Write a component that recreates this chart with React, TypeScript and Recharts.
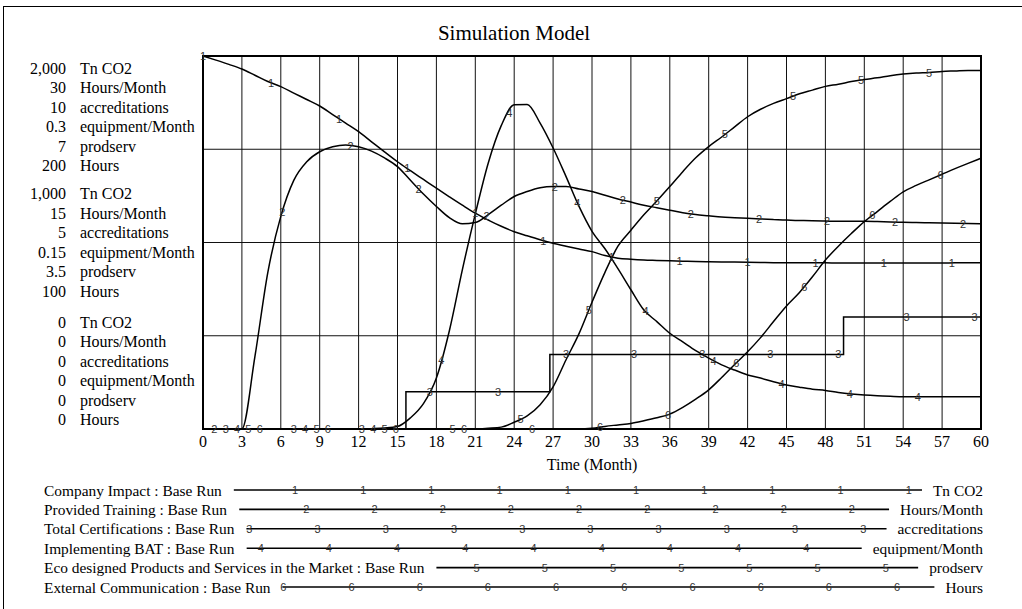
import { CartesianGrid, Line, LineChart, ReferenceArea, XAxis, YAxis } from "recharts";

const months = [
  0, 1, 2, 3, 4, 5, 6, 7, 8, 9, 10, 11, 12, 13, 14, 15, 16, 17, 18, 19, 20, 21, 22, 23, 24, 25, 26, 27, 28, 29, 30,
  31, 32, 33, 34, 35, 36, 37, 38, 39, 40, 41, 42, 43, 44, 45, 46, 47, 48, 49, 50, 51, 52, 53, 54, 55, 56, 57, 58, 59, 60,
];
const timeTicks = [0, 3, 6, 9, 12, 15, 18, 21, 24, 27, 30, 33, 36, 39, 42, 45, 48, 51, 54, 57, 60];

// Tn CO2
const companyImpact = [
  2000, 1978, 1955, 1930, 1897, 1863, 1836, 1801, 1767, 1732, 1686, 1640, 1594, 1540, 1486, 1433, 1385, 1338, 1291, 1245,
  1200, 1157, 1120, 1087, 1058, 1036, 1015, 996, 980, 965, 951, 930, 916, 910, 906, 904, 902, 900, 898, 897, 896, 895, 894,
  893, 892, 892, 891, 891, 891, 890, 890, 890, 890, 890, 890, 890, 890, 890, 891, 891, 892,
];
// Hours/Month
const providedTraining = [
  0, 0, 0, 0, 5.8, 12.6, 17.1, 20.0, 21.5, 22.3, 22.7, 22.85, 22.7, 22.35, 21.8, 21.1, 20.0, 18.9, 17.9, 17.0, 16.5, 16.6,
  17.25, 18.0, 18.7, 19.1, 19.4, 19.5, 19.5, 19.3, 19.1, 18.8, 18.5, 18.25, 18.0, 17.8, 17.6, 17.4, 17.25, 17.15, 17.05,
  17.0, 16.95, 16.9, 16.85, 16.8, 16.77, 16.74, 16.72, 16.7, 16.7, 16.7, 16.68, 16.65, 16.63, 16.6, 16.58, 16.56, 16.54,
  16.52, 16.5,
];
// accreditations (step series)
const certifications = [
  0, 0, 0, 0, 0, 0, 0, 0, 0, 0, 0, 0, 0, 0, 0, 0, 1, 1, 1, 1, 1, 1, 1, 1, 1, 1, 1, 2, 2, 2, 2, 2, 2, 2, 2, 2, 2, 2, 2, 2, 2,
  2, 2, 2, 2, 2, 2, 2, 2, 2, 3, 3, 3, 3, 3, 3, 3, 3, 3, 3, 3,
];
const certJumps = [15.65, 26.75, 49.4];
const certJumpLevels = [1, 2, 3];
// equipment/Month
const implementingBAT = [
  0, 0, 0, 0, 0, 0, 0, 0, 0, 0, 0, 0, 0, 0.0003, 0.0008, 0.002, 0.009, 0.0204, 0.041, 0.079, 0.128, 0.173, 0.214, 0.244,
  0.2607, 0.261, 0.246, 0.226, 0.203, 0.179, 0.159, 0.145, 0.129, 0.112, 0.0957, 0.0864, 0.077, 0.07, 0.063, 0.057, 0.0516,
  0.0474, 0.0435, 0.041, 0.038, 0.0354, 0.0336, 0.032, 0.031, 0.0294, 0.0282, 0.0273, 0.0267, 0.0263, 0.026, 0.026, 0.026,
  0.026, 0.026, 0.026, 0.026,
];
// prodserv
const ecoProducts = [
  0, 0, 0, 0, 0, 0, 0, 0, 0, 0, 0, 0, 0, 0, 0, 0, 0, 0, 0, 0, 0, 0, 0.014, 0.035, 0.126, 0.245, 0.455, 0.79, 1.3, 1.79,
  2.38, 2.94, 3.43, 3.73, 4.02, 4.28, 4.55, 4.83, 5.09, 5.3, 5.48, 5.67, 5.86, 6.0, 6.11, 6.2, 6.29, 6.36, 6.43, 6.47, 6.52,
  6.56, 6.59, 6.63, 6.66, 6.68, 6.69, 6.71, 6.72, 6.73, 6.73,
];
// Hours
const externalComm = [
  0, 0, 0, 0, 0, 0, 0, 0, 0, 0, 0, 0, 0, 0, 0, 0, 0, 0, 0, 0, 0, 0, 0, 0, 0, 0, 0, 0, 0, 0, 0.4, 1.4, 2.2, 3, 4.4, 6, 8,
  11.6, 16, 21, 27.6, 34.6, 41.4, 49, 57.6, 66, 73.2, 81.6, 90.6, 98, 104.8, 111.2, 116.6, 122, 127.2, 130.6, 133.6, 136.6,
  139.6, 142.4, 145.2,
];

const seriesNames = [
  "Company Impact",
  "Provided Training",
  "Total Certifications",
  "Implementing BAT",
  "Eco designed Products and Services in the Market",
  "External Communication",
];
const units = ["Tn CO2", "Hours/Month", "accreditations", "equipment/Month", "prodserv", "Hours"];
const axisMax = [2000, 30, 10, 0.3, 7, 200];
const runName = "Base Run";

const SERIF = "'Liberation Serif', 'Times New Roman', serif";
const SANS = "'Liberation Sans', Arial, sans-serif";
const axisIds = ["co2", "train", "cert", "bat", "eco", "comm"];

const mainData = months.map((t, i) => ({
  t,
  s1: companyImpact[i],
  s2: providedTraining[i],
  s4: implementingBAT[i],
  s5: ecoProducts[i],
  s6: externalComm[i],
}));
const certData = [
  ...months.map((t, i) => ({ t, s3: certifications[i] })),
  ...certJumps.map((t, i) => ({ t, s3: certJumpLevels[i] })),
].sort((a, b) => a.t - b.t);

// Vensim-style numbered markers: one every 5.25 months, staggered per series
function markerTimes(k: number) {
  const out: number[] = [];
  for (let m = k * 0.875; m <= 60; m += 5.25) out.push(m);
  return out;
}

const markerDot = (k: number, data: { t: number }[], step = false) => (p: any) => {
  const i = p.index;
  const key = `m${k}-${i}`;
  if (p.cx == null || p.cy == null) return <g key={key} />;
  const t0 = data[i].t;
  const t1 = i + 1 < data.length ? data[i + 1].t : Infinity;
  const ms = markerTimes(k).filter((m) => m >= t0 - 1e-6 && m < t1 - 1e-6);
  if (!ms.length) return <g key={key} />;
  const pts = p.points;
  return (
    <g key={key}>
      {ms.map((m) => {
        let x = p.cx;
        let y = p.cy;
        if (pts && pts[i + 1] && Number.isFinite(t1)) {
          const f = (m - t0) / (t1 - t0);
          x = pts[i].x + f * (pts[i + 1].x - pts[i].x);
          if (!step) y = pts[i].y + f * (pts[i + 1].y - pts[i].y);
        }
        return (
          <text key={m} x={x} y={y} textAnchor="middle" dominantBaseline="central" fontSize={11} fontFamily={SANS} fill="#333">
            {k + 1}
          </text>
        );
      })}
    </g>
  );
};

function fmt(v: number) {
  return v.toLocaleString("en-US", { maximumFractionDigits: 3 });
}

function LeftTick(props: any) {
  const { y, payload } = props;
  const v = payload.value;
  let level: number;
  let start: number;
  if (v === 2000) {
    level = 1;
    start = y + 12;
  } else if (v === 1000) {
    level = 0.5;
    start = y - 48.75;
  } else if (v === 0) {
    level = 0;
    start = y - 107;
  } else return <g />;
  return (
    <g>
      {units.map((u, i) => (
        <g key={u}>
          <text x={66} y={start + i * 19.5} textAnchor="end" dominantBaseline="central" fontSize={16} fontFamily={SERIF} fill="#000">
            {fmt(axisMax[i] * level)}
          </text>
          <text x={80} y={start + i * 19.5} textAnchor="start" dominantBaseline="central" fontSize={16} fontFamily={SERIF} fill="#000">
            {u}
          </text>
        </g>
      ))}
    </g>
  );
}

function BottomTick(props: any) {
  const { x, y, payload } = props;
  return (
    <text x={x} y={y + 12} textAnchor="middle" dominantBaseline="central" fontSize={16} fontFamily={SERIF} fill="#000">
      {payload.value}
    </text>
  );
}

const LEGEND_FONT = 15.4;

function textWidth(s: string) {
  const ctx = document.createElement("canvas").getContext("2d");
  if (!ctx) return s.length * 7.3;
  ctx.font = `${LEGEND_FONT}px 'Liberation Serif'`;
  return ctx.measureText(s).width;
}

function ChartLegend() {
  return (
    <svg width={1022} height={140} style={{ position: "absolute", left: 0, top: 470 }}>
      {seriesNames.map((name, k) => {
        const cy = 20 + k * 19.4;
        const label = `${name} : ${runName}`;
        const x0 = 44 + textWidth(label) + 12;
        const x1 = 983 - textWidth(units[k]) - 11;
        const marks: number[] = [];
        for (let m = 226.8 + k * 11.3; m <= x1; m += 68.2) if (m >= x0 + 0.5) marks.push(m);
        return (
          <g key={name}>
            <text x={44} y={cy} dominantBaseline="central" fontSize={LEGEND_FONT} fontFamily={SERIF} fill="#000">
              {label}
            </text>
            <line x1={x0} x2={x1} y1={cy} y2={cy} stroke="#000" strokeWidth={1.6} />
            {marks.map((m) => (
              <text key={m} x={m} y={cy} textAnchor="middle" dominantBaseline="central" fontSize={11} fontFamily={SANS} fill="#333">
                {k + 1}
              </text>
            ))}
            <text x={983} y={cy} textAnchor="end" dominantBaseline="central" fontSize={LEGEND_FONT} fontFamily={SERIF} fill="#000">
              {units[k]}
            </text>
          </g>
        );
      })}
    </svg>
  );
}

export default function App() {
  const mainSeries = [
    { key: "s1", k: 0 },
    { key: "s2", k: 1 },
    { key: "s4", k: 3 },
    { key: "s5", k: 4 },
    { key: "s6", k: 5 },
  ];
  return (
    <div style={{ position: "absolute", left: 0, top: 0, width: 1022, height: 609, background: "#fff", overflow: "hidden" }}>
      <div style={{ position: "absolute", left: 3, top: 6, width: 1100, height: 700, borderLeft: "1.5px solid #000", borderTop: "1.5px solid #000" }} />
      <div
        style={{
          position: "absolute",
          left: 514,
          top: 21,
          transform: "translateX(-50%)",
          fontFamily: SERIF,
          fontSize: 21,
          whiteSpace: "nowrap",
          color: "#000",
        }}
      >
        Simulation Model
      </div>
      <div style={{ position: "absolute", left: 0, top: 0 }}>
        <LineChart width={1022} height={480} data={mainData} margin={{ top: 56, right: 41, bottom: 0, left: 0 }}>
          <CartesianGrid yAxisId="co2" stroke="#111" strokeWidth={1} />
          <XAxis
            dataKey="t"
            type="number"
            domain={[0, 60]}
            ticks={timeTicks}
            interval={0}
            tickLine={false}
            axisLine={false}
            tickSize={0}
            tickMargin={0}
            height={51}
            tick={<BottomTick />}
            label={{
              content: ({ viewBox }: any) => (
                <text x={viewBox.x + viewBox.width / 2} y={viewBox.y + 35} textAnchor="middle" dominantBaseline="central" fontSize={16} fontFamily={SERIF} fill="#000">
                  Time (Month)
                </text>
              ),
            }}
          />
          <YAxis
            yAxisId="co2"
            domain={[0, axisMax[0]]}
            ticks={[0, 500, 1000, 1500, 2000]}
            interval={0}
            width={203}
            tickLine={false}
            axisLine={false}
            tickSize={0}
            tickMargin={0}
            tick={<LeftTick />}
          />
          {axisIds.slice(1).map((id, i) => (
            <YAxis key={id} yAxisId={id} domain={[0, axisMax[i + 1]]} hide />
          ))}
          <ReferenceArea yAxisId="co2" x1={0} x2={60} y1={0} y2={axisMax[0]} fill="none" stroke="#000" strokeWidth={2} ifOverflow="visible" />
          {mainSeries.map(({ key, k }) => (
            <Line
              key={key}
              yAxisId={axisIds[k]}
              dataKey={key}
              type="monotone"
              stroke="#000"
              strokeWidth={1.5}
              dot={markerDot(k, mainData)}
              activeDot={false}
              isAnimationActive={false}
            />
          ))}
          <Line
            yAxisId="cert"
            data={certData}
            dataKey="s3"
            type="stepAfter"
            stroke="#000"
            strokeWidth={1.5}
            dot={markerDot(2, certData, true)}
            activeDot={false}
            isAnimationActive={false}
          />
        </LineChart>
      </div>
      <ChartLegend />
    </div>
  );
}
